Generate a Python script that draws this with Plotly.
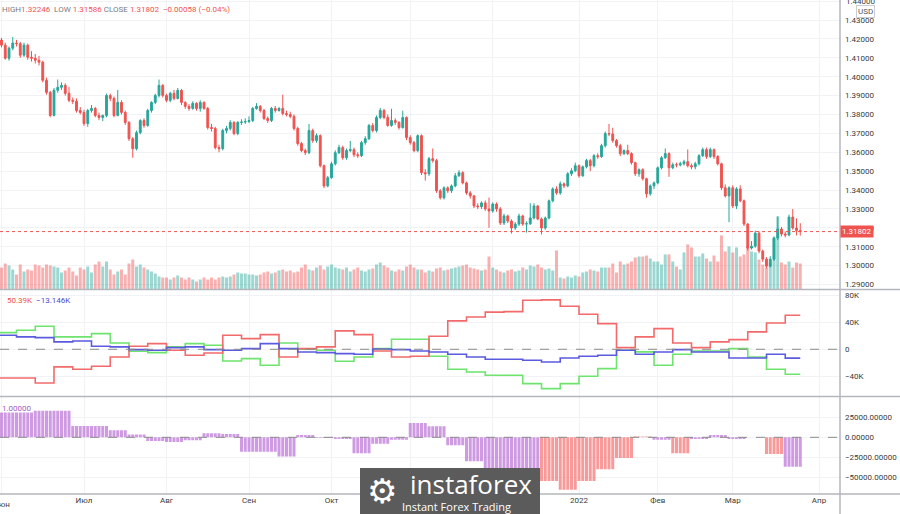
import plotly.graph_objects as go
import pandas as pd

# ---------------- data ----------------
dates = pd.bdate_range("2021-05-31", "2022-03-25")          # daily candles
weeks = pd.date_range("2021-05-31", "2022-03-21", freq="W-MON")  # weekly COT points

open_ = [
 1.4230,1.4194,1.4167,1.4098,1.4151,1.4178,1.4175,1.4114,1.4167,1.4103,
 1.4098,1.4087,1.4077,1.3981,1.3917,1.3795,1.3928,1.3944,1.3954,1.3912,
 1.3875,1.3870,1.3821,1.3811,1.3752,1.3821,1.3832,1.3795,1.3784,1.3795,
 1.3901,1.3885,1.3795,1.3864,1.3811,1.3758,1.3672,1.3619,1.3704,1.3768,
 1.3742,1.3821,1.3864,1.3901,1.3954,1.3901,1.3875,1.3912,1.3885,1.3928,
 1.3864,1.3843,1.3832,1.3859,1.3832,1.3864,1.3832,1.3731,1.3726,1.3625,
 1.3619,1.3715,1.3726,1.3758,1.3699,1.3758,1.3760,1.3763,1.3768,1.3832,
 1.3843,1.3821,1.3779,1.3768,1.3832,1.3821,1.3832,1.3805,1.3800,1.3790,
 1.3726,1.3646,1.3609,1.3598,1.3715,1.3662,1.3688,1.3529,1.3422,1.3465,
 1.3539,1.3598,1.3625,1.3571,1.3609,1.3614,1.3587,1.3582,1.3651,1.3672,
 1.3742,1.3715,1.3784,1.3821,1.3784,1.3742,1.3768,1.3758,1.3731,1.3784,
 1.3678,1.3651,1.3609,1.3688,1.3492,1.3486,1.3566,1.3556,1.3396,1.3359,
 1.3412,1.3396,1.3422,1.3476,1.3492,1.3438,1.3385,1.3369,1.3316,1.3312,
 1.3332,1.3300,1.3289,1.3326,1.3300,1.3226,1.3263,1.3236,1.3199,1.3220,
 1.3263,1.3220,1.3222,1.3252,1.3316,1.3247,1.3199,1.3252,1.3343,1.3406,
 1.3385,1.3433,1.3422,1.3486,1.3502,1.3529,1.3476,1.3523,1.3556,1.3529,
 1.3582,1.3577,1.3635,1.3699,1.3697,1.3662,1.3635,1.3593,1.3609,1.3593,
 1.3545,1.3486,1.3508,1.3460,1.3380,1.3422,1.3438,1.3518,1.3571,1.3593,
 1.3518,1.3534,1.3533,1.3539,1.3550,1.3529,1.3523,1.3539,1.3582,1.3614,
 1.3577,1.3614,1.3577,1.3539,1.3412,1.3369,1.3412,1.3316,1.3406,1.3343,
 1.3220,1.3093,1.3103,1.3172,1.3077,1.3034,1.2997,1.3034,1.3146,1.3194,
 1.3167,1.3162,1.3257,1.3199,1.3186]

high = [
 1.4245,1.4205,1.4180,1.4160,1.4210,1.4195,1.4185,1.4180,1.4175,1.4135,
 1.4120,1.4110,1.4085,1.3995,1.3925,1.3940,1.3985,1.3970,1.3965,1.3945,
 1.3890,1.3885,1.3840,1.3825,1.3830,1.3850,1.3840,1.3810,1.3800,1.3910,
 1.3910,1.3895,1.3930,1.3875,1.3820,1.3765,1.3680,1.3715,1.3775,1.3780,
 1.3830,1.3870,1.3910,1.3985,1.3960,1.3910,1.3920,1.3930,1.3940,1.3935,
 1.3870,1.3855,1.3870,1.3865,1.3875,1.3870,1.3840,1.3750,1.3735,1.3640,
 1.3725,1.3740,1.3770,1.3765,1.3765,1.3775,1.3780,1.3790,1.3840,1.3860,
 1.3850,1.3830,1.3790,1.3840,1.3845,1.3840,1.3905,1.3820,1.3815,1.3800,
 1.3735,1.3655,1.3620,1.3750,1.3725,1.3700,1.3695,1.3535,1.3475,1.3550,
 1.3610,1.3640,1.3635,1.3620,1.3660,1.3625,1.3600,1.3660,1.3685,1.3750,
 1.3755,1.3795,1.3835,1.3830,1.3800,1.3830,1.3780,1.3765,1.3820,1.3790,
 1.3690,1.3660,1.3695,1.3695,1.3510,1.3575,1.3620,1.3565,1.3405,1.3420,
 1.3420,1.3430,1.3490,1.3505,1.3500,1.3445,1.3395,1.3375,1.3330,1.3340,
 1.3345,1.3360,1.3335,1.3335,1.3310,1.3275,1.3270,1.3245,1.3230,1.3275,
 1.3270,1.3235,1.3330,1.3330,1.3320,1.3255,1.3260,1.3350,1.3415,1.3420,
 1.3445,1.3440,1.3495,1.3515,1.3545,1.3535,1.3530,1.3565,1.3565,1.3590,
 1.3595,1.3645,1.3710,1.3750,1.3730,1.3670,1.3645,1.3615,1.3640,1.3600,
 1.3550,1.3515,1.3515,1.3465,1.3430,1.3445,1.3525,1.3580,1.3620,1.3600,
 1.3545,1.3545,1.3550,1.3560,1.3615,1.3540,1.3550,1.3590,1.3625,1.3625,
 1.3625,1.3620,1.3585,1.3545,1.3430,1.3420,1.3425,1.3415,1.3425,1.3350,
 1.3225,1.3130,1.3185,1.3180,1.3085,1.3045,1.3050,1.3155,1.3260,1.3205,
 1.3180,1.3270,1.3300,1.3250,1.32246]

low = [
 1.4180,1.4155,1.4090,1.4085,1.4140,1.4160,1.4100,1.4105,1.4090,1.4080,
 1.4070,1.4060,1.3970,1.3905,1.3785,1.3790,1.3915,1.3930,1.3900,1.3865,
 1.3855,1.3810,1.3800,1.3740,1.3735,1.3810,1.3785,1.3770,1.3765,1.3785,
 1.3870,1.3785,1.3790,1.3800,1.3745,1.3660,1.3571,1.3610,1.3695,1.3730,
 1.3735,1.3810,1.3855,1.3890,1.3890,1.3865,1.3865,1.3875,1.3880,1.3850,
 1.3830,1.3820,1.3825,1.3820,1.3815,1.3825,1.3720,1.3710,1.3615,1.3600,
 1.3610,1.3700,1.3715,1.3690,1.3690,1.3745,1.3750,1.3755,1.3760,1.3825,
 1.3810,1.3770,1.3755,1.3760,1.3810,1.3815,1.3795,1.3790,1.3780,1.3715,
 1.3635,1.3600,1.3585,1.3590,1.3650,1.3650,1.3520,1.3410,1.3415,1.3460,
 1.3530,1.3590,1.3560,1.3560,1.3600,1.3575,1.3570,1.3575,1.3640,1.3665,
 1.3705,1.3705,1.3775,1.3775,1.3735,1.3735,1.3745,1.3720,1.3725,1.3665,
 1.3640,1.3600,1.3600,1.3480,1.3450,1.3475,1.3545,1.3385,1.3350,1.3350,
 1.3385,1.3385,1.3415,1.3470,1.3430,1.3375,1.3355,1.3305,1.3300,1.3300,
 1.3290,1.3200,1.3280,1.3285,1.3215,1.3215,1.3225,1.3170,1.3190,1.3210,
 1.3210,1.3175,1.3215,1.3245,1.3240,1.3165,1.3190,1.3245,1.3335,1.3375,
 1.3375,1.3410,1.3415,1.3475,1.3495,1.3465,1.3470,1.3515,1.3500,1.3520,
 1.3565,1.3570,1.3625,1.3685,1.3650,1.3625,1.3580,1.3585,1.3585,1.3535,
 1.3475,1.3470,1.3450,1.3360,1.3370,1.3405,1.3430,1.3510,1.3565,1.3470,
 1.3510,1.3520,1.3525,1.3530,1.3520,1.3510,1.3510,1.3530,1.3575,1.3565,
 1.3570,1.3565,1.3530,1.3400,1.3360,1.3230,1.3305,1.3300,1.3335,1.3210,
 1.3080,1.3085,1.3095,1.3065,1.3020,1.2985,1.2990,1.3025,1.3135,1.3155,
 1.3150,1.3155,1.3190,1.3160,1.31586]

close = [
 1.4194,1.4167,1.4098,1.4151,1.4178,1.4175,1.4114,1.4167,1.4103,1.4098,
 1.4087,1.4077,1.3981,1.3917,1.3795,1.3928,1.3944,1.3954,1.3912,1.3875,
 1.3870,1.3821,1.3811,1.3752,1.3821,1.3832,1.3795,1.3784,1.3795,1.3901,
 1.3885,1.3795,1.3864,1.3811,1.3758,1.3672,1.3619,1.3704,1.3768,1.3742,
 1.3821,1.3864,1.3901,1.3954,1.3901,1.3875,1.3912,1.3885,1.3928,1.3864,
 1.3843,1.3832,1.3859,1.3832,1.3864,1.3832,1.3731,1.3726,1.3625,1.3619,
 1.3715,1.3726,1.3758,1.3699,1.3758,1.3760,1.3763,1.3768,1.3832,1.3843,
 1.3821,1.3779,1.3768,1.3832,1.3821,1.3832,1.3805,1.3800,1.3790,1.3726,
 1.3646,1.3609,1.3598,1.3715,1.3662,1.3688,1.3529,1.3422,1.3465,1.3539,
 1.3598,1.3625,1.3571,1.3609,1.3614,1.3587,1.3582,1.3651,1.3672,1.3742,
 1.3715,1.3784,1.3821,1.3784,1.3742,1.3768,1.3758,1.3731,1.3784,1.3678,
 1.3651,1.3609,1.3688,1.3492,1.3486,1.3566,1.3556,1.3396,1.3359,1.3412,
 1.3396,1.3422,1.3476,1.3492,1.3438,1.3385,1.3369,1.3316,1.3312,1.3332,
 1.3300,1.3289,1.3326,1.3300,1.3226,1.3263,1.3236,1.3199,1.3220,1.3263,
 1.3220,1.3222,1.3252,1.3316,1.3247,1.3199,1.3252,1.3343,1.3406,1.3385,
 1.3433,1.3422,1.3486,1.3502,1.3529,1.3476,1.3523,1.3556,1.3529,1.3582,
 1.3577,1.3635,1.3699,1.3697,1.3662,1.3635,1.3593,1.3609,1.3593,1.3545,
 1.3486,1.3508,1.3460,1.3380,1.3422,1.3438,1.3518,1.3571,1.3593,1.3518,
 1.3534,1.3533,1.3539,1.3550,1.3529,1.3523,1.3539,1.3582,1.3614,1.3577,
 1.3614,1.3577,1.3539,1.3412,1.3369,1.3412,1.3316,1.3406,1.3343,1.3220,
 1.3093,1.3103,1.3172,1.3077,1.3034,1.2997,1.3034,1.3146,1.3194,1.3167,
 1.3162,1.3257,1.3199,1.3186,1.31802]

volume = [
 25,22,26,24,20,15,25,18,20,19,25,24,22,25,24,23,22,17,19,22,
 18,14,22,20,23,17,25,28,23,28,20,15,18,20,15,26,30,23,25,22,
 20,18,16,13,12,12,10,12,14,12,10,12,10,8,10,12,10,12,10,12,
 13,12,13,15,17,16,16,15,15,14,15,17,18,16,17,19,20,18,19,17,
 18,22,25,20,19,22,24,20,23,25,22,21,20,22,18,20,22,19,18,20,
 21,25,27,24,22,19,18,20,19,23,25,22,20,20,17,19,18,21,22,19,
 20,21,22,23,24,25,22,21,20,19,
 20,33,22,20,18,17,19,20,18,19,
 22,20,24,23,25,22,20,21,19,39,
 12,11,13,12,14,13,17,18,20,19,
 18,22,22,22,26,17,28,25,26,28,
 32,33,33,34,31,28,28,25,35,35,
 28,23,20,37,45,42,33,33,36,31,
 28,34,28,54,38,43,37,42,33,35,
 43,38,37,30,25,22,27,52,73,27,
 25,28,22,27,26]

# weekly COT positions (thousands of contracts)
cot_red = [-42.5,-42.5,-50.0,-26.0,-29.6,-25.2,-11.4,4.4,8.4,-1.5,-8.9,-5.4,20.7,15.8,21.7,
           -11.4,1.0,3.5,27.2,21.7,-2.5,-11.4,-10.4,19.3,42.0,47.9,55.0,55.8,72.6,73.2,
           63.7,51.9,38.0,2.5,18.3,30.6,9.4,2.5,10.9,14.3,25.7,39.0,50.39]
cot_green = [24.7,28.1,34.0,18.3,18.3,23.2,9.4,-3.0,-4.9,3.5,8.4,5.9,-17.3,-13.8,-23.7,
             9.4,0.0,-1.5,-17.8,-11.4,1.0,14.8,14.8,-10.4,-29.6,-33.6,-38.5,-38.5,-50.9,-58.3,
             -50.9,-40.0,-28.6,-1.5,-3.9,-23.7,-7.4,-2.5,-2.5,1.0,-11.4,-29.6,-37.0]
cot_blue = [20.7,18.3,17.3,10.9,12.3,4.4,3.5,-0.5,-1.5,2.5,3.5,-0.5,-1.5,1.0,8.4,
            1.0,-4.0,-4.9,-6.4,-7.4,0.5,-0.5,-2.5,-4.0,-7.4,-11.4,-14.8,-14.8,-16.3,-18.8,
            -12.8,-10.4,-8.9,-1.5,-7.4,-4.0,-0.5,-4.0,-4.0,-12.8,-12.8,-7.4,-13.146]

# weekly histogram values and colour class (1 = violet, 0 = pink)
hist_week = [31000,31000,33300,33300,14300,14300,9000,3600,-4800,-6000,-3600,5000,4000,-18000,-18000,
             -24000,3000,-1000,-2000,-20000,-8000,-3000,18000,14000,-10000,-30000,-40000,-45000,-47000,-55000,
             -66000,-55000,-40000,-26000,1000,-3000,-20000,-2000,3000,-2000,0,-21000,-37000]
hist_violet = [1,1,1,1,1,1,1,1,1,1,1,1,1,1,1,1,1,1,1,1,1,1,1,1,1,1,1,1,1,0,
               0,0,0,0,0,1,0,1,1,1,0,0,1]

month_ticks = ["2021-06-01","2021-07-01","2021-08-02","2021-09-01","2021-10-01","2021-11-01",
               "2021-12-01","2022-01-03","2022-02-01","2022-03-01","2022-04-01"]
month_text = ["Июн","Июл","Авг","Сен","Окт","Ноя","Дек","2022","Фев","Мар","Апр"]
price_ticks = [1.29,1.30,1.31,1.32,1.33,1.34,1.35,1.36,1.37,1.38,1.39,1.40,1.41,1.42,1.43,1.44]

# ---------------- styling ----------------
UP = "#26a69a"; DN = "#ef5350"
UPV = "rgba(38,166,154,0.45)"; DNV = "rgba(239,83,80,0.45)"
VIOLET = "rgba(190,120,215,0.75)"; PINK = "rgba(245,120,120,0.75)"
GRID = "#f0f2f6"; TXT = "#3a3a3a"; FONT = "Roboto"

vol_colors = [UPV if c >= o else DNV for o, c in zip(open_, close)]
hist_daily = [hist_week[i // 5] for i in range(len(dates))]
hist_colors = [VIOLET if hist_violet[i // 5] else PINK for i in range(len(dates))]
wk_x = list(weeks) + [dates[-1]]

# labels hidden behind the watermark box (Ноя, Дек) are left blank on the axis
hidden_labels = {"Ноя", "Дек"}
axis_text = ["" if t in hidden_labels else t for t in month_text]

fig = go.Figure()
fig.add_trace(go.Bar(x=dates, y=volume, marker=dict(color=vol_colors, line=dict(width=0)),
                     xaxis="x3", yaxis="y", hoverinfo="skip"))
fig.add_trace(go.Candlestick(x=dates, open=open_, high=high, low=low, close=close,
                             increasing=dict(line=dict(color=UP, width=1), fillcolor=UP),
                             decreasing=dict(line=dict(color=DN, width=1), fillcolor=DN),
                             xaxis="x3", yaxis="y4", hoverinfo="skip"))
for vals, col in [(cot_green, "#6ee36e"), (cot_red, "#f26a6a"), (cot_blue, "#5b5be0")]:
    fig.add_trace(go.Scatter(x=wk_x, y=[v * 1000 for v in vals] + [vals[-1] * 1000],
                             mode="lines", line=dict(color=col, width=1.6, shape="hv"),
                             xaxis="x2", yaxis="y2", hoverinfo="skip"))
fig.add_trace(go.Bar(x=dates, y=hist_daily, marker=dict(color=hist_colors, line=dict(width=0)),
                     xaxis="x", yaxis="y3", hoverinfo="skip"))

H = 494.0  # plot-area height in px
def py(p):  # px from top -> paper y
    return (H - p) / H
def px(p):
    return p / 840.0

rb = [dict(bounds=["sat", "mon"])]
xr = ["2021-05-31 14:24", "2022-04-08 14:24"]
xcommon = dict(type="date", rangebreaks=rb, showgrid=True, gridcolor=GRID, gridwidth=1,
               tickvals=month_ticks, zeroline=False, showline=False, fixedrange=True)

fig.update_layout(
    width=900, height=514, margin=dict(l=0, r=60, t=0, b=20),
    paper_bgcolor="white", plot_bgcolor="white", showlegend=False, bargap=0.2,
    font=dict(family=FONT, size=8, color=TXT),
    xaxis=dict(**xcommon, domain=[0, 1], anchor="y3", range=xr, ticktext=axis_text,
               showticklabels=True, tickfont=dict(size=8, color=TXT), ticks=""),
    xaxis2=dict(**xcommon, matches="x", anchor="y2", showticklabels=False, rangeslider=dict(visible=False)),
    xaxis3=dict(**xcommon, matches="x", anchor="y", showticklabels=False, rangeslider=dict(visible=False)),
    yaxis=dict(domain=[py(289.5), 1], anchor="x3", range=[0, 289], visible=False, showgrid=False),
    yaxis4=dict(overlaying="y", anchor="x3", side="right", range=[1.28737, 1.44060],
                tickvals=price_ticks, ticktext=[f"{v:.5f}" for v in price_ticks],
                showgrid=True, gridcolor=GRID, zeroline=False, ticks="", ticklabelstandoff=4,
                tickfont=dict(size=8, color=TXT)),
    yaxis2=dict(domain=[py(396.5), py(289.5)], anchor="x2", side="right", range=[-69900, 88500],
                tickvals=[-40000, 0, 40000, 80000], ticktext=["−40K", "0", "40K", "80K"],
                showgrid=True, gridcolor=GRID, zeroline=False, ticks="", ticklabelstandoff=4,
                tickfont=dict(size=8, color=TXT)),
    yaxis3=dict(domain=[0, py(396.5)], anchor="x", side="right", range=[-71231, 51256],
                tickvals=[-50000, -25000, 0, 25000],
                ticktext=["−50000.00000", "−25000.00000", "0.00000", "25000.00000"],
                showgrid=True, gridcolor=GRID, zeroline=False, ticks="", ticklabelstandoff=4,
                tickfont=dict(size=8, color=TXT)),
)

SEP = "#b4b6bd"
shapes = [
    dict(type="line", xref="paper", yref="y2", x0=0, x1=1, y0=0, y1=0, line=dict(color="#8a8a8a", width=1, dash="dash")),
    dict(type="line", xref="paper", yref="y3", x0=0, x1=1, y0=0, y1=0, line=dict(color="#8a8a8a", width=1, dash="dash")),
    dict(type="line", xref="paper", yref="y4", x0=0, x1=1, y0=close[-1], y1=close[-1], line=dict(color=DN, width=1, dash="dot")),
    dict(type="line", xref="paper", yref="paper", x0=0, x1=900/840, y0=py(289.5), y1=py(289.5), line=dict(color=SEP, width=1.5)),
    dict(type="line", xref="paper", yref="paper", x0=0, x1=900/840, y0=py(396.5), y1=py(396.5), line=dict(color=SEP, width=1.5)),
    dict(type="line", xref="paper", yref="paper", x0=0, x1=900/840, y0=0, y1=0, line=dict(color=SEP, width=1.5)),
    dict(type="line", xref="paper", yref="paper", x0=1, x1=1, y0=py(514), y1=1, line=dict(color=SEP, width=1.5)),
    dict(type="rect", xref="paper", yref="paper", x0=px(360), x1=px(540), y0=py(516), y1=py(468),
         fillcolor="#5b5b5b", line=dict(width=0), layer="above"),
]
fig.update_layout(shapes=shapes)

G = "#787b86"; R = DN
header = (f"<span style='color:{G}'>HIGH</span><span style='color:{R}'>1.32246</span>  "
          f"<span style='color:{G}'>LOW</span> <span style='color:{R}'>1.31586</span> "
          f"<span style='color:{G}'>CLOSE</span> <span style='color:{R}'>1.31802</span>  "
          f"<span style='color:{R}'>−0.00058 (−0.04%)</span>")
ann = [
    dict(xref="paper", yref="paper", x=0, y=py(9), xanchor="left", yanchor="middle", text=header,
         showarrow=False, font=dict(size=8)),
    # top price label, partly cut by the top edge as in the reference
    dict(xref="paper", yref="y4", x=1, y=1.44, xanchor="left", yanchor="middle", xshift=4,
         text="1.44000", showarrow=False, font=dict(size=8, color=TXT)),
    dict(xref="paper", yref="paper", x=px(866), y=py(11), xanchor="center", yanchor="middle", text="USD",
         showarrow=False, font=dict(size=8, color="#555"), bordercolor="#c9ccd4", borderwidth=1, borderpad=1,
         bgcolor="white"),
    dict(xref="paper", yref="y4", x=1, y=close[-1], xanchor="left", yanchor="middle", text="1.31802",
         showarrow=False, font=dict(size=8, color="white"), bgcolor=DN, borderpad=1),
    # first month label, partly cut by the left edge as in the reference
    dict(xref="paper", yref="paper", x=px(1.5), y=py(504), xanchor="center", yanchor="middle", text="Июн",
         showarrow=False, font=dict(size=8, color=TXT)),
    dict(xref="paper", yref="paper", x=px(5), y=py(300), xanchor="left", yanchor="middle",
         text="<span style='color:#ef5350'>50.39K</span>  <span style='color:#4b4bd6'>−13.146K</span>",
         showarrow=False, font=dict(size=8)),
    dict(xref="paper", yref="paper", x=0, y=py(408), xanchor="left", yanchor="middle", text="1.00000",
         showarrow=False, font=dict(size=8, color="#a45cc0")),
    dict(xref="paper", yref="paper", x=px(382), y=py(491), xanchor="center", yanchor="middle", text="⚙",
         showarrow=False, font=dict(size=34, color="white", family="DejaVu Sans")),
    dict(xref="paper", yref="paper", x=px(471), y=py(484), xanchor="center", yanchor="middle", text="instaforex",
         showarrow=False, font=dict(size=26, color="white", family="Open Sans")),
    dict(xref="paper", yref="paper", x=px(457), y=py(506), xanchor="center", yanchor="middle",
         text="Instant Forex Trading", showarrow=False, font=dict(size=11, color="white", family="Open Sans")),
]
fig.update_layout(annotations=ann)

fig.write_html("out.html")
